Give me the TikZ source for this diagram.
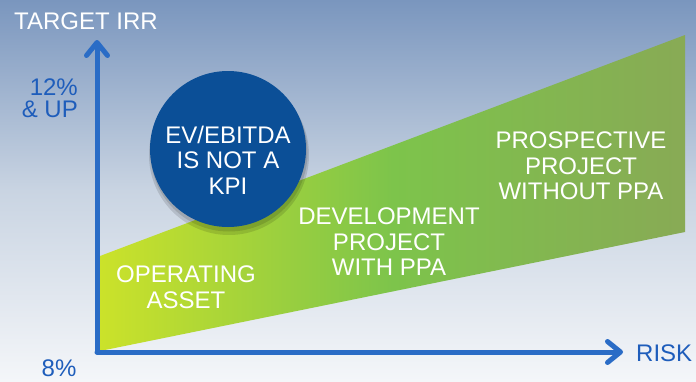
\documentclass[tikz,border=0pt]{standalone}
\usepackage{fontspec}
\setmainfont{Liberation Sans}
\usetikzlibrary{arrows.meta}
\definecolor{axisblue}{HTML}{2A6CC6}
\definecolor{labelblue}{HTML}{1E5DBB}
\definecolor{circblue}{HTML}{0B4F97}
\definecolor{bgtop}{HTML}{7A96BE}
\definecolor{bgmid}{HTML}{C9D4E2}
\definecolor{bgbot}{HTML}{F4F6F9}
\definecolor{gleft}{HTML}{CBE22A}
\definecolor{gmid}{HTML}{7DC44B}
\definecolor{gright}{HTML}{88AA55}
\begin{document}
\begin{tikzpicture}[x=1pt,y=-1pt,
  axisline/.style={draw=axisblue,line width=5pt,line cap=round,
    -{Straight Barb[length=13pt,width=21pt,line width=5pt,line cap=round,round]}},
  wlabel/.style={text=white,font=\fontsize{24}{25.5}\selectfont,align=center,inner sep=0pt},
  blabel/.style={text=labelblue,font=\fontsize{24}{24}\selectfont,inner sep=0pt}]
\useasboundingbox (0,0) rectangle (696,381);
\shade[top color=bgtop,bottom color=bgbot,middle color=bgmid] (0,0) rectangle (696,381);
% green wedge
\shade[left color=gleft,right color=gright,middle color=gmid]
  (100,351) -- (100,256) -- (685,35) -- (685,232) -- cycle;
% circle with shadow
\fill[black,opacity=0.12] (229,155) circle (80);
\fill[black,opacity=0.12] (229,153) circle (78.5);
\node[circle,fill=circblue,minimum size=156pt,inner sep=0pt] (kpi) at (228,149) {};
\node[wlabel] (kpitxt) at (228,160) {EV/EBITDA\\IS NOT A\\KPI};
% axes
\coordinate (origin) at (97,352);
\coordinate (ytip) at (97,40);
\coordinate (xtip) at (623,352);
\draw[axisline] (origin) -- (ytip);
\draw[axisline] (origin) -- (xtip);
% labels
\node[text=white,font=\fontsize{24}{24}\selectfont,inner sep=0pt,anchor=west] (target) at (14,21) {TARGET IRR};
\node[blabel,anchor=east] (twelve) at (78,87) {12\%};
\node[blabel,anchor=east] (andup) at (78,109) {\& UP};
\node[blabel] (eight) at (59,368) {8\%};
\node[blabel,anchor=west] (risk) at (636,353) {RISK};
\node[wlabel] (op) at (186,287) {OPERATING\\ASSET};
\node[wlabel] (dev) at (389,242) {DEVELOPMENT\\PROJECT\\WITH PPA};
\node[wlabel] (pros) at (581,166) {PROSPECTIVE\\PROJECT\\WITHOUT PPA};
\end{tikzpicture}
\end{document}
